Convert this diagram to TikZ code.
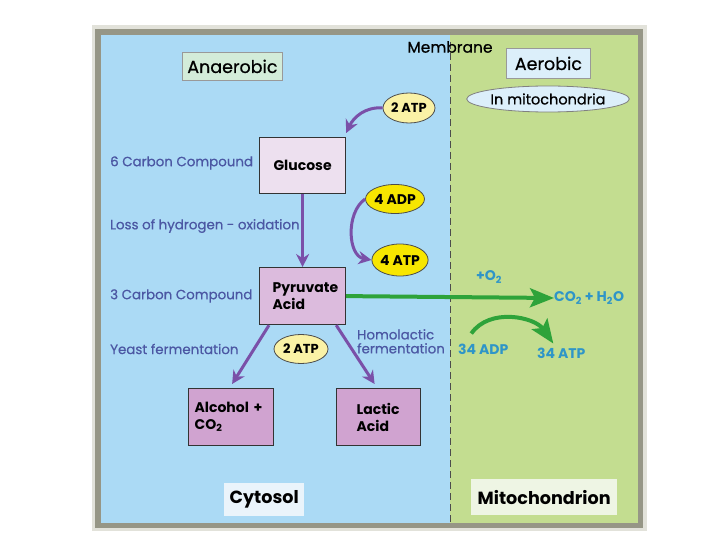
\documentclass[tikz,border=0pt]{standalone}
\usepackage{fontspec}
\setmainfont{Poppins}
\newfontfamily\medfont{Poppins}[FakeBold=0.6]
\usetikzlibrary{arrows.meta,shapes.geometric,calc}
\definecolor{bluebg}{HTML}{ABDAF5}
\definecolor{greenbg}{HTML}{C3DD90}
\definecolor{framedark}{HTML}{969686}
\definecolor{framelight}{HTML}{E2E2DA}
\definecolor{purplearrow}{HTML}{7A50A8}
\definecolor{labeltext}{HTML}{4B57A3}
\definecolor{tealtext}{HTML}{2E95C8}
\definecolor{greenarrow}{HTML}{2EA33A}
\definecolor{glucosefill}{HTML}{EDE0EF}
\definecolor{pyrfill}{HTML}{DCBBDD}
\definecolor{prodfill}{HTML}{D0A3D0}
\definecolor{yellowbright}{HTML}{F7E600}
\definecolor{yellowpale}{HTML}{FAF2A6}
\definecolor{anaerofill}{HTML}{D3ECD9}
\definecolor{aerofill}{HTML}{DCEFFA}
\definecolor{cytofill}{HTML}{EAF4FB}
\definecolor{mitofill}{HTML}{EEF5E4}
\tikzset{
  x=1pt, y=-1pt,
  molbox/.style={draw=black!80, line width=1.2pt, align=left, font=\fontsize{14}{17}\selectfont\bfseries, anchor=north west, inner sep=0pt},
  sidelabel/.style={text=labeltext, font=\medfont\fontsize{13.4}{15}\selectfont, anchor=west, inner sep=0pt},
  tealabel/.style={text=tealtext, font=\fontsize{14}{16}\selectfont\bfseries, inner sep=0pt},
  energy/.style={ellipse, draw=black!70, line width=0.8pt, font=\fontsize{14}{16}\selectfont\bfseries, inner sep=0pt},
  parrow/.style={draw=purplearrow, line width=3pt, -{Stealth[length=13pt,width=13pt]}},
  garrow/.style={draw=greenarrow, line width=4pt, -{Stealth[length=24pt,width=19pt,inset=5pt]}},
  titlebox/.style={draw=black!40, line width=0.8pt, font=\medfont\fontsize{17.5}{20}\selectfont, inner sep=0pt, anchor=north west},
  regionbox/.style={font=\fontsize{17.6}{20}\selectfont\bfseries, inner sep=0pt, anchor=north west}
}
\begin{document}
\begin{tikzpicture}
\useasboundingbox (0,0) rectangle (720,540);
% frame and panels
\fill[framelight] (92,25) rectangle (647,531);
\fill[framedark] (95,29) rectangle (643,528);
\fill[bluebg] (101,35) rectangle (450,523);
\fill[greenbg] (450,35) rectangle (638,523);
\draw[black!70, line width=1pt, dash pattern=on 7pt off 4pt] (450,42) -- (450,523);

% titles
\node[titlebox, fill=anaerofill, minimum width=100pt, minimum height=28pt] (anaer) at (182,52) {Anaerobic};
\node[titlebox, fill=aerofill, minimum width=84pt, minimum height=30pt] (aer) at (506,48) {Aerobic};
\node[ellipse, draw=black!50, fill=aerofill, line width=0.8pt, minimum width=130pt, minimum height=26pt, inner sep=0pt, font=\medfont\fontsize{14.5}{16}\selectfont] (mito) at (548,99) {In mitochondria};
\node[font=\medfont\fontsize{15.5}{17}\selectfont, inner sep=0pt] (membrane) at (450,47) {Membrane};

% molecule boxes
\node[molbox, fill=glucosefill, minimum width=86pt, minimum height=56pt, align=center] (glucose) at (259,137) {Glucose};
\node[molbox, fill=pyrfill, minimum width=86pt, minimum height=57pt, text width=60pt, inner xsep=13pt] (pyr) at (259,267) {Pyruvate\\Acid};
\node[molbox, fill=prodfill, minimum width=85pt, minimum height=57pt, text width=73pt, inner xsep=6pt] (alc) at (188,388) {Alcohol +\\CO\textsubscript{2}};
\node[molbox, fill=prodfill, minimum width=84pt, minimum height=57pt, text width=44pt, inner xsep=20pt] (lac) at (336,388) {Lactic\\Acid};

% side labels
\node[sidelabel] (six) at (110,163) {6 Carbon Compound};
\node[sidelabel] (loss) at (110,226) {Loss of hydrogen - oxidation};
\node[sidelabel] (three) at (110,296) {3 Carbon Compound};
\node[sidelabel] (yeast) at (110,349) {Yeast fermentation};
\node[sidelabel, align=left, anchor=north west, font=\medfont\fontsize{13.4}{14}\selectfont] (homo) at (357,329) {Homolactic\\fermentation};

% energy ellipses
\node[energy, fill=yellowpale, minimum width=52pt, minimum height=30pt, font=\fontsize{13}{15}\selectfont\bfseries] (atpA) at (409,108) {2 ATP};
\node[energy, fill=yellowbright, minimum width=58pt, minimum height=29pt] (adp4) at (395,199) {4 ADP};
\node[energy, fill=yellowbright, minimum width=56pt, minimum height=32pt] (atp4) at (400,260) {4 ATP};
\node[energy, fill=yellowpale, minimum width=54pt, minimum height=29pt, font=\fontsize{13}{15}\selectfont\bfseries] (atpB) at (301,349) {2 ATP};

% aerobic texts
\node[tealabel] (o2) at (489,277) {+O\textsubscript{2}};
\node[tealabel, anchor=west] (prod) at (554,298) {CO\textsubscript{2} + H\textsubscript{2}O};
\node[tealabel, anchor=west] (adp34) at (458,349) {34 ADP};
\node[tealabel, anchor=west] (atp34) at (537,353) {34 ATP};

% region labels
\node[regionbox, fill=cytofill, minimum width=80pt, minimum height=33pt, align=center] (cyto) at (224,483) {Cytosol};
\node[regionbox, fill=mitofill, minimum width=146pt, minimum height=36pt, align=center] (mitoch) at (471,479) {Mitochondrion};

% arrows
\coordinate (gluctop) at ($(glucose.north east)+(0,-4)$);
\draw[parrow] (atpA.west) to[out=175, in=65] (gluctop);
\draw[parrow] (glucose.south) -- (pyr.north);
\draw[parrow] (adp4.west) to[out=215, in=170] (atp4.west);
\coordinate (yeastfrom) at ($(pyr.south west)+(10,0)$);
\coordinate (yeastto) at ($(alc.north)+(1,-4)$);
\coordinate (homofrom) at ($(pyr.south east)+(-10,0)$);
\coordinate (homoto) at ($(lac.north)+(-4,-4)$);
\draw[parrow] (yeastfrom) -- (yeastto);
\draw[parrow] (homofrom) -- (homoto);
\draw[garrow] (pyr.east) -- (prod.west);
\coordinate (gstart) at ($(adp34.north)+(-12,-10)$);
\coordinate (gend) at ($(atp34.north)+(-8,-4)$);
\draw[garrow] (gstart) to[out=55, in=125] (gend);
\end{tikzpicture}
\end{document}
